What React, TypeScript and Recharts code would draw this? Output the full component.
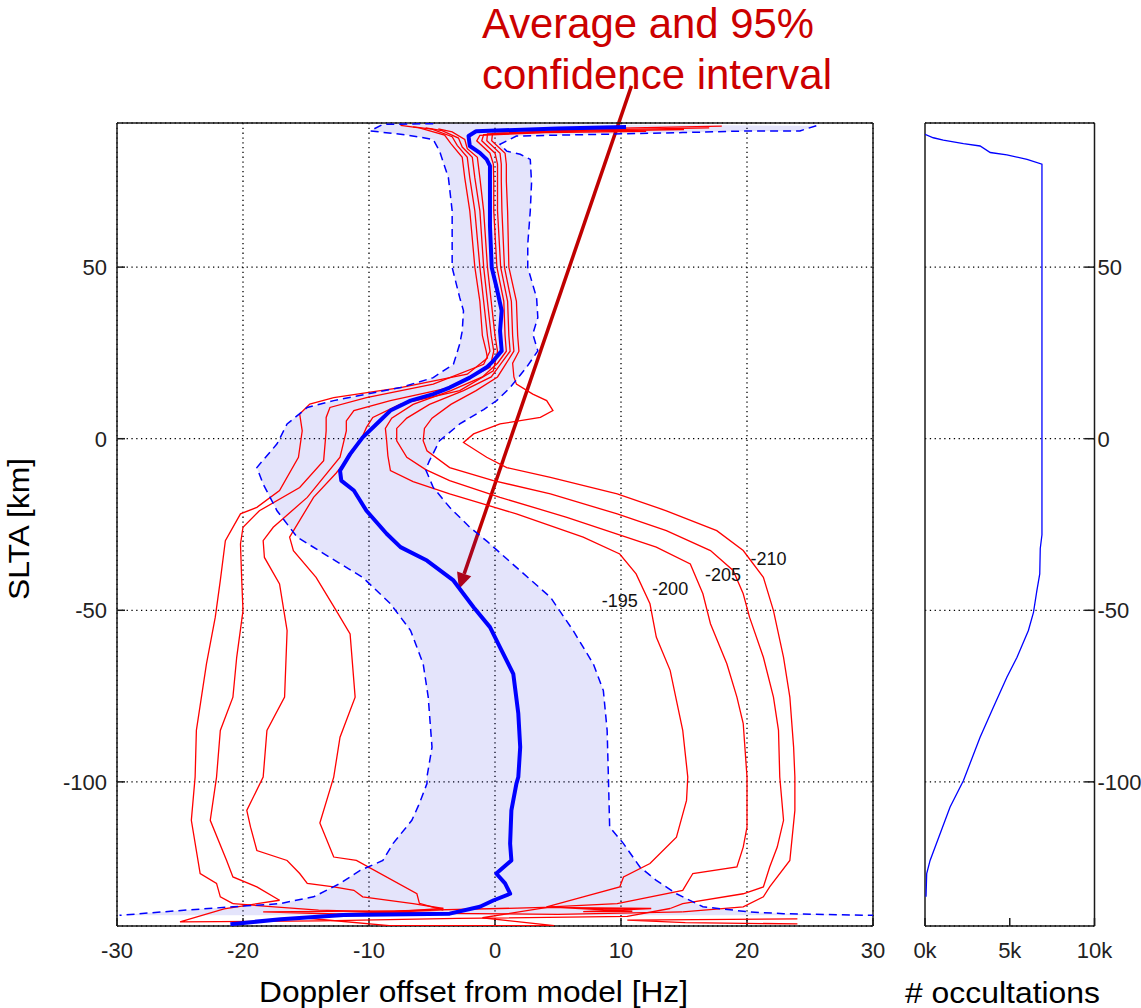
import React from "react";
import { ScatterChart, Scatter, XAxis, YAxis, CartesianGrid, ReferenceLine } from "recharts";

// [doppler offset Hz, SLTA km]
type P = [number, number];

const xTicks = [-30, -20, -10, 0, 10, 20, 30];
const yTicks = [-100, -50, 0, 50];
const occTicks = [0, 5000, 10000];

const meanLine: P[] = [
  [10.4, 90.8], [5.0, 90.4], [-1.5, 89.6], [-2.1, 88.2], [-2.0, 85.3], [-1.2, 83.3], [-0.66, 81.4],
  [-0.4, 79.5], [-0.4, 70.2], [-0.4, 62], [-0.26, 49.9], [0.13, 44], [0.53, 37.3], [0.4, 31.4],
  [0.53, 25.6], [-0.13, 22.7], [-0.66, 20.8], [-2.0, 17.8], [-3.6, 14.9], [-4.9, 13.0], [-6.7, 11.1],
  [-8.3, 8.2], [-9.4, 4.3], [-10.5, 0.4], [-11.5, -4.5], [-12.3, -9.3], [-12.2, -12.2], [-11.2, -15.1],
  [-10.2, -21], [-8.6, -27.7], [-7.5, -31.6], [-5.4, -35.5], [-3.3, -41.3], [-1.7, -49.1], [-0.4, -54.9],
  [0.4, -60.8], [1.45, -68.5], [1.85, -80.1], [2.0, -89.9], [1.85, -98.6], [1.7, -100.5], [1.3, -108.3],
  [1.2, -118], [1.3, -122.9], [0.1, -126.7], [0.8, -129.6], [1.2, -132.6], [-0.1, -134.5], [-1.2, -136.4],
  [-3.6, -138.4], [-12, -138.8], [-17, -140], [-21, -141.5],
];

const ciLow: P[] = [
  [-4.9, 91.8], [-8.9, 91.6], [-9.9, 89.7], [-7.0, 88.5], [-4.9, 87.2], [-4.4, 83.8], [-3.7, 76.1],
  [-3.4, 66.4], [-3.4, 49.9], [-2.8, 41.1], [-2.5, 37.3], [-2.6, 31.4], [-2.8, 27.6], [-3.3, 21.7],
  [-4.9, 17.8], [-7.5, 14.9], [-10.2, 13.0], [-12.8, 11.1], [-14.9, 9.1], [-16.5, 4.3], [-17.3, -1.5],
  [-18.9, -8.4], [-18.4, -13.2], [-17.3, -21], [-15.7, -28.7], [-13.1, -34.6], [-10.5, -40.4], [-8.3, -48.1],
  [-6.7, -55.9], [-5.7, -65.6], [-5.3, -75.3], [-5.0, -89.9], [-5.4, -98.6], [-5.4, -100.5], [-6.0, -106.3],
  [-6.6, -111.2], [-8.1, -118], [-8.9, -122.9], [-10.7, -125.8], [-12.3, -129.6], [-14.4, -133.5],
  [-17.1, -135.5], [-20.8, -136.4], [-24.7, -137.4], [-29.8, -138.9],
];

const ciHigh: P[] = [
  [25.5, 91.2], [24.2, 89.7], [20.2, 89.7], [14.9, 89.2], [1.7, 88.2], [0.4, 85.8], [0.93, 83.8],
  [2.0, 82.9], [2.8, 81.4], [2.9, 74.6], [2.8, 66.4], [2.6, 56.7], [2.6, 49.9], [3.3, 41.1], [3.4, 35.3],
  [3.0, 30.5], [3.4, 25.6], [2.5, 20.8], [1.2, 14.9], [0.13, 11.1], [-0.9, 8.5], [-2.8, 4.3], [-4.4, -0.6],
  [-5.2, -6.4], [-5.5, -9], [-4.9, -14.2], [-3.6, -20], [-2.0, -25.8], [-0.6, -30], [1.7, -37.5],
  [4.4, -46.2], [6.2, -55.9], [7.8, -65.6], [8.6, -73.4], [8.9, -85], [9.0, -98.6], [9.1, -113.2],
  [10.2, -118], [11.5, -124.8], [12.8, -128.7], [14.4, -132.6], [16.5, -136.4], [20.2, -137.9],
  [22.9, -138.4], [30, -138.9],
];

// contour branches, left side (outer to inner)
const left210: P[] = [
  [-7.5, 91.3], [-6.0, 90.6], [-4.0, 88.5], [-3.5, 86], [-2.6, 82], [-2.4, 76], [-2.0, 66.4], [-1.6, 50],
  [-1.2, 40], [-1.0, 30], [-0.7, 25.5], [-0.6, 23.5], [-2.2, 18.8], [-7.5, 14.9], [-12.8, 12], [-14.7, 10.1],
  [-15.5, 7.2], [-15.3, 2.3], [-15.6, -5.4], [-17.1, -15.1], [-18.9, -20], [-20.2, -21.9], [-21.4, -29.7],
  [-21.8, -41.3], [-22.2, -52], [-22.9, -65.6], [-23.7, -85], [-23.8, -98.6], [-24.1, -111.2],
  [-23.4, -126.7], [-22.1, -129.6], [-21.8, -133.5], [-20.8, -135.5],
];
const left205: P[] = [
  [-6.5, 90.9], [-5.0, 90.2], [-3.4, 88], [-3.0, 85.5], [-2.2, 82], [-2.0, 76], [-1.6, 66.4], [-1.2, 50],
  [-0.9, 40], [-0.6, 30], [-0.4, 25.5], [-0.9, 21.7], [-4.9, 15.9], [-10.2, 12], [-13.1, 9.1], [-13.4, 6.2],
  [-13.4, 2.3], [-13.6, -6.4], [-15.5, -14.2], [-18.7, -21], [-20.0, -25.8], [-20.2, -30.7], [-20.1, -41.3],
  [-20.0, -50.1], [-20.5, -63.7], [-20.8, -75.3], [-21.8, -85], [-22.1, -98.6], [-22.6, -111.2],
  [-21.3, -122.9], [-20.8, -127.7], [-18.9, -130.6], [-17.1, -134.5],
];
const left200: P[] = [
  [-5.5, 90.6], [-4.2, 89.8], [-2.9, 87.6], [-2.6, 85], [-1.8, 82], [-1.6, 76], [-1.2, 66.4], [-0.9, 50],
  [-0.6, 40], [-0.3, 30], [-0.1, 25.5], [-0.4, 20.8], [-3.6, 14.9], [-8.3, 11.1], [-11.2, 8.2], [-11.8, 5.2],
  [-11.8, 2.3], [-12.3, -5.4], [-14.9, -17.1], [-17.6, -25.8], [-18.4, -29.7], [-18.3, -34.6], [-17.1, -42.3],
  [-16.5, -55.9], [-16.7, -75.3], [-18.1, -85], [-18.4, -98.6], [-19.7, -108.3], [-19.4, -113.2],
  [-18.9, -120], [-16.5, -122.9], [-15.5, -126.7], [-14.9, -129.6], [-12.8, -130.6], [-11.2, -131.6],
  [-10.5, -133.5], [-6.5, -135.5], [-4.1, -136.9],
];
const left195: P[] = [
  [-4.5, 90.3], [-3.4, 89.4], [-2.4, 87.2], [-2.2, 84.5], [-1.4, 82], [-1.2, 76], [-0.9, 66.4], [-0.6, 50],
  [-0.3, 40], [0.0, 30], [0.2, 25.5], [-0.13, 19.8], [-2.8, 14], [-7.5, 10.1], [-9.7, 6.2], [-10.2, 3.3],
  [-10.6, 0], [-11.5, -5], [-12.6, -10], [-14.4, -17.1], [-16.3, -28.7], [-16.0, -32.6], [-14.2, -40.4],
  [-12.6, -50.1], [-11.5, -56.9], [-11.1, -75.3], [-12.3, -87], [-12.8, -98.6], [-13.9, -112],
  [-12.8, -121.9], [-11.0, -122.9], [-6.2, -132.6], [-6.0, -135.4], [-4.1, -137.4],
];

// contour branches, right side (labelled)
const right195: P[] = [
  [12.0, 89.6], [4.0, 89.2], [-1.2, 88.4], [-1.45, 86.8], [-0.4, 83.2], [-0.13, 80], [-0.1, 75], [-0.1, 66.4],
  [0.15, 50], [0.7, 40], [0.8, 30], [0.9, 25.5], [0.2, 22], [-1.0, 18], [-3.5, 14], [-6.5, 10], [-8.2, 6],
  [-8.7, 3], [-8.6, -0.6], [-8.5, -5], [-8.3, -9.3], [-6.5, -12.5], [-3.6, -16.1], [1.7, -21.9], [7.0, -28.7],
  [9.9, -33.6], [11.2, -39.4], [12.3, -48.1], [12.8, -57.8], [13.9, -67.5], [14.9, -85], [15.3, -98.6],
  [15.2, -105.4], [14.4, -116.1], [12.3, -123.8], [10.2, -127.7], [9.9, -130.6], [7.0, -133.5], [4.1, -136.4],
];
const right200: P[] = [
  [15.0, 90.1], [6.0, 89.6], [-0.9, 88.6], [-1.05, 86.8], [0.0, 83.2], [0.2, 80], [0.2, 75], [0.2, 66.4],
  [0.45, 50], [1.0, 40], [1.1, 30], [1.2, 25.5], [0.5, 22], [-0.3, 18], [-2.5, 14], [-5.2, 10], [-7.0, 6],
  [-7.8, 3], [-7.8, -0.6], [-7.0, -5.4], [-5.5, -9], [-3.6, -12.2], [0.4, -17.1], [5.7, -22.9], [9.7, -27.8],
  [12.8, -31.6], [15.5, -36.5], [16.5, -45.2], [17.1, -53.9], [18.4, -65.6], [19.2, -75.3], [19.7, -83],
  [20.0, -98.6], [20.0, -113.2], [19.7, -119], [19.2, -124.8], [15.7, -126.7], [14.9, -131.6], [9.7, -135.5],
  [4.4, -136.4],
];
const right205: P[] = [
  [17.0, 90.6], [8.0, 90.0], [-0.6, 88.8], [-0.65, 86.8], [0.4, 83.2], [0.5, 80], [0.5, 75], [0.55, 66.4],
  [0.75, 50], [1.3, 40], [1.4, 30], [1.5, 25.5], [0.9, 22], [0.2, 18], [-1.5, 14], [-3.5, 10], [-5.0, 6],
  [-5.6, 3], [-5.7, -0.6], [-5.4, -3.5], [-3.6, -8.4], [-0.13, -12.2], [4.4, -16.1], [9.7, -21.9],
  [13.6, -26.8], [17.1, -32.6], [18.9, -38.4], [19.7, -45.2], [20.2, -52], [21.3, -63.7], [22.1, -75.3],
  [22.5, -85], [22.6, -98.6], [22.9, -111.2], [22.4, -119], [21.8, -124.8], [21.3, -130.6], [19.7, -132.6],
  [14.9, -135.5], [13.9, -136.9],
];
const right210: P[] = [
  [18.0, 91.1], [10.0, 90.5], [-0.2, 89.0], [-0.26, 86.8], [0.8, 83.2], [0.9, 80], [0.9, 75], [1.0, 66.4],
  [1.1, 50], [1.7, 40], [1.8, 30], [1.9, 25.5], [1.4, 22], [1.5, 18], [1.7, 15.9], [3.0, 13], [4.1, 11.1],
  [4.6, 8.2], [3.6, 6.2], [0.4, 4.3], [-1.7, 1.4], [-2.5, -1.1], [-0.66, -5.4], [0.93, -8.4], [4.4, -11.3],
  [9.7, -16.1], [13.6, -21], [17.6, -26.8], [19.7, -32.6], [21.3, -40.4], [22.1, -50.1], [22.9, -63.7],
  [23.4, -75.3], [23.7, -89.9], [23.8, -98.6], [23.8, -108.3], [23.4, -122.9], [21.8, -130.6], [21.3, -133.5],
  [19.7, -136.4], [14.9, -137.9],
];

// the tangle along the bottom edge
const bottom210: P[] = [[-20.8, -135.5], [-14.0, -137.4], [-4.5, -138.3], [5.0, -138.6], [14.9, -137.9]];
const bottom205: P[] = [
  [-17.1, -134.5], [-21.5, -137.0], [-25.0, -140.8], [-13.8, -140.5], [-3.0, -139.8], [10.5, -139.2], [13.9, -136.9],
];
const bottom200: P[] = [[-4.1, -136.9], [-15.3, -139.6], [-8.4, -141.9], [4.7, -141.9], [-1.0, -139.6], [4.4, -136.4]];
const bottom195: P[] = [
  [-4.1, -137.4], [-12.6, -138.5], [-18.4, -137.9], [-8.0, -137.6], [3.9, -136.6], [12.4, -136.9],
  [7.0, -137.8], [10.9, -137.7], [4.1, -136.4],
];
const bottomExtra: P[] = [[24.0, -141.4], [15.1, -141.0], [10.5, -140.3], [24.0, -139.9]];

const contourLabels = [
  { text: "-195", x: 9.9, y: -47.2 },
  { text: "-200", x: 13.9, y: -43.7 },
  { text: "-205", x: 18.1, y: -39.6 },
  { text: "-210", x: 21.7, y: -35.1 },
];

// [occultations, SLTA km]
const occultations: P[] = [
  [0, 88.7], [490, 87.7], [1080, 87.0], [2270, 86.0], [3250, 85.3], [3850, 83.4], [4830, 82.7],
  [6020, 81.4], [6900, 80.0], [6900, 40], [6900, 0], [6900, -28], [6800, -32], [6770, -39.4], [6600, -44.3],
  [6400, -50.6], [6100, -55.9], [5430, -63.7], [4830, -69.5], [4040, -78.2], [3250, -87.0], [2270, -99.6],
  [1480, -107.3], [890, -115.1], [300, -122.9], [100, -126.7], [60, -133.5],
];

const arrowFrom = { x: 10.83, y: 102.8 };
const arrowTo = { x: -2.86, y: -43.8 };

const FONT = "'Liberation Sans', Arial, Helvetica, sans-serif";
const pts = (a: P[]) => a.map(([x, y]) => ({ x, y }));
const noDot = () => <g />;
const band = pts([...ciHigh, ...ciLow.slice().reverse()]);

const axisLine = { stroke: "#1a1a1a", strokeWidth: 1.5 };
const tickStyle = { fill: "#222", fontSize: 22, fontFamily: FONT };
const grid = { stroke: "#000", strokeWidth: 1.3, strokeDasharray: "1.3 3.5" };
const red = { stroke: "#ff0000", strokeWidth: 1.3, fill: "none" };

const Arrow = (p: any) => {
  const { x1, y1, x2, y2 } = p;
  const dx = x2 - x1;
  const dy = y2 - y1;
  const len = Math.hypot(dx, dy) || 1;
  const ux = dx / len;
  const uy = dy / len;
  const bx = x2 - ux * 16;
  const by = y2 - uy * 16;
  return (
    <g>
      <line x1={x1} y1={y1} x2={bx} y2={by} stroke="#c00000" strokeWidth={3.5} />
      <polygon
        points={`${x2},${y2} ${bx - uy * 7.5},${by + ux * 7.5} ${bx + uy * 7.5},${by - ux * 7.5}`}
        fill="#c00000"
      />
    </g>
  );
};

const LabelText = (p: any) => (
  <text x={p.cx} y={p.cy} textAnchor="middle" dominantBaseline="central" fontSize={18} fontFamily={FONT} fill="#111">
    {p.payload?.text ?? p.text}
  </text>
);

export default function App() {
  const redSeries = [left210, left205, left200, left195, right195, right200, right205, right210,
    bottom210, bottom205, bottom200, bottom195, bottomExtra];
  return (
    <div style={{ position: "absolute", left: 0, top: 0, width: 1141, height: 1008, background: "#fff" }}>
      <div style={{ position: "absolute", left: 0, top: 0 }}>
        <ScatterChart width={900} height={1008} margin={{ top: 122, right: 26, bottom: 81, left: 116 }}>
          <XAxis type="number" dataKey="x" domain={[-30, 30]} ticks={xTicks} allowDataOverflow interval={0}
            height={1} tickSize={-8} tickMargin={24} tick={tickStyle} axisLine={axisLine} tickLine={axisLine} />
          <XAxis xAxisId="top" orientation="top" type="number" dataKey="x" domain={[-30, 30]} ticks={xTicks}
            allowDataOverflow interval={0} height={1} tick={false} tickSize={-8} axisLine={axisLine} tickLine={axisLine} />
          <YAxis type="number" dataKey="y" domain={[-142, 92]} ticks={yTicks} allowDataOverflow interval={0}
            width={1} tickSize={-8} tickMargin={18} tick={tickStyle} axisLine={axisLine} tickLine={axisLine} />
          <YAxis yAxisId="right" orientation="right" type="number" dataKey="y" domain={[-142, 92]} ticks={yTicks}
            allowDataOverflow interval={0} width={1} tick={false} tickSize={-8} axisLine={axisLine} tickLine={axisLine} />
          <Scatter data={band} shape={noDot} isAnimationActive={false}
            line={{ stroke: "none", fill: "#2020e0", fillOpacity: 0.12 }} />
          <CartesianGrid {...grid} />
          {redSeries.map((s, i) => (
            <Scatter key={i} data={pts(s)} shape={noDot} isAnimationActive={false} line={red} />
          ))}
          <Scatter data={pts(ciLow)} shape={noDot} isAnimationActive={false}
            line={{ stroke: "#0000ff", strokeWidth: 1.5, strokeDasharray: "8 5", fill: "none" }} />
          <Scatter data={pts(ciHigh)} shape={noDot} isAnimationActive={false}
            line={{ stroke: "#0000ff", strokeWidth: 1.5, strokeDasharray: "8 5", fill: "none" }} />
          <Scatter data={pts(meanLine)} shape={noDot} isAnimationActive={false}
            line={{ stroke: "#0000ff", strokeWidth: 4, fill: "none", strokeLinejoin: "round" }} />
          <Scatter data={contourLabels} shape={LabelText} isAnimationActive={false} />
          <ReferenceLine segment={[arrowFrom, arrowTo]} ifOverflow="visible" shape={Arrow} />
        </ScatterChart>
      </div>

      <div style={{ position: "absolute", left: 880, top: 0 }}>
        <ScatterChart width={261} height={1008} margin={{ top: 122, right: 45.5, bottom: 81, left: 44 }}>
          <XAxis type="number" dataKey="x" domain={[0, 10000]} ticks={occTicks} allowDataOverflow interval={0}
            height={1} tickSize={-8} tickMargin={24} tick={tickStyle} axisLine={axisLine} tickLine={axisLine}
            tickFormatter={(v: number) => `${v / 1000}k`} />
          <XAxis xAxisId="top" orientation="top" type="number" dataKey="x" domain={[0, 10000]} ticks={occTicks}
            allowDataOverflow interval={0} height={1} tick={false} tickSize={-8} axisLine={axisLine} tickLine={axisLine} />
          <YAxis yAxisId="left" orientation="left" type="number" dataKey="y" domain={[-142, 92]} ticks={yTicks}
            allowDataOverflow interval={0} width={1} tick={false} tickSize={-8} axisLine={axisLine} tickLine={axisLine} />
          <YAxis orientation="right" type="number" dataKey="y" domain={[-142, 92]} ticks={yTicks} allowDataOverflow
            interval={0} width={1} tickSize={-10} tickMargin={13} tick={tickStyle} axisLine={axisLine} tickLine={axisLine} />
          <CartesianGrid {...grid} vertical={false} />
          <Scatter data={pts(occultations)} shape={noDot} isAnimationActive={false}
            line={{ stroke: "#0000ff", strokeWidth: 1.3, fill: "none" }} />
        </ScatterChart>
      </div>

      <svg width={1141} height={1008} style={{ position: "absolute", left: 0, top: 0, pointerEvents: "none" }}>
        <g fontFamily={FONT}>
          <text x={482} y={37.5} fontSize={42} fill="#cc0000" textLength={332} lengthAdjust="spacingAndGlyphs">
            Average and 95%
          </text>
          <text x={482} y={89} fontSize={42} fill="#cc0000" textLength={350} lengthAdjust="spacingAndGlyphs">
            confidence interval
          </text>
          <text x={259} y={1002} fontSize={29} fill="#000" textLength={429} lengthAdjust="spacingAndGlyphs">
            Doppler offset from model [Hz]
          </text>
          <text x={905} y={1003} fontSize={29} fill="#000" textLength={195} lengthAdjust="spacingAndGlyphs">
            # occultations
          </text>
          <text transform="translate(29,529) rotate(-90)" textAnchor="middle" fontSize={29} fill="#000"
            textLength={142} lengthAdjust="spacingAndGlyphs">
            SLTA [km]
          </text>
        </g>
      </svg>
    </div>
  );
}
